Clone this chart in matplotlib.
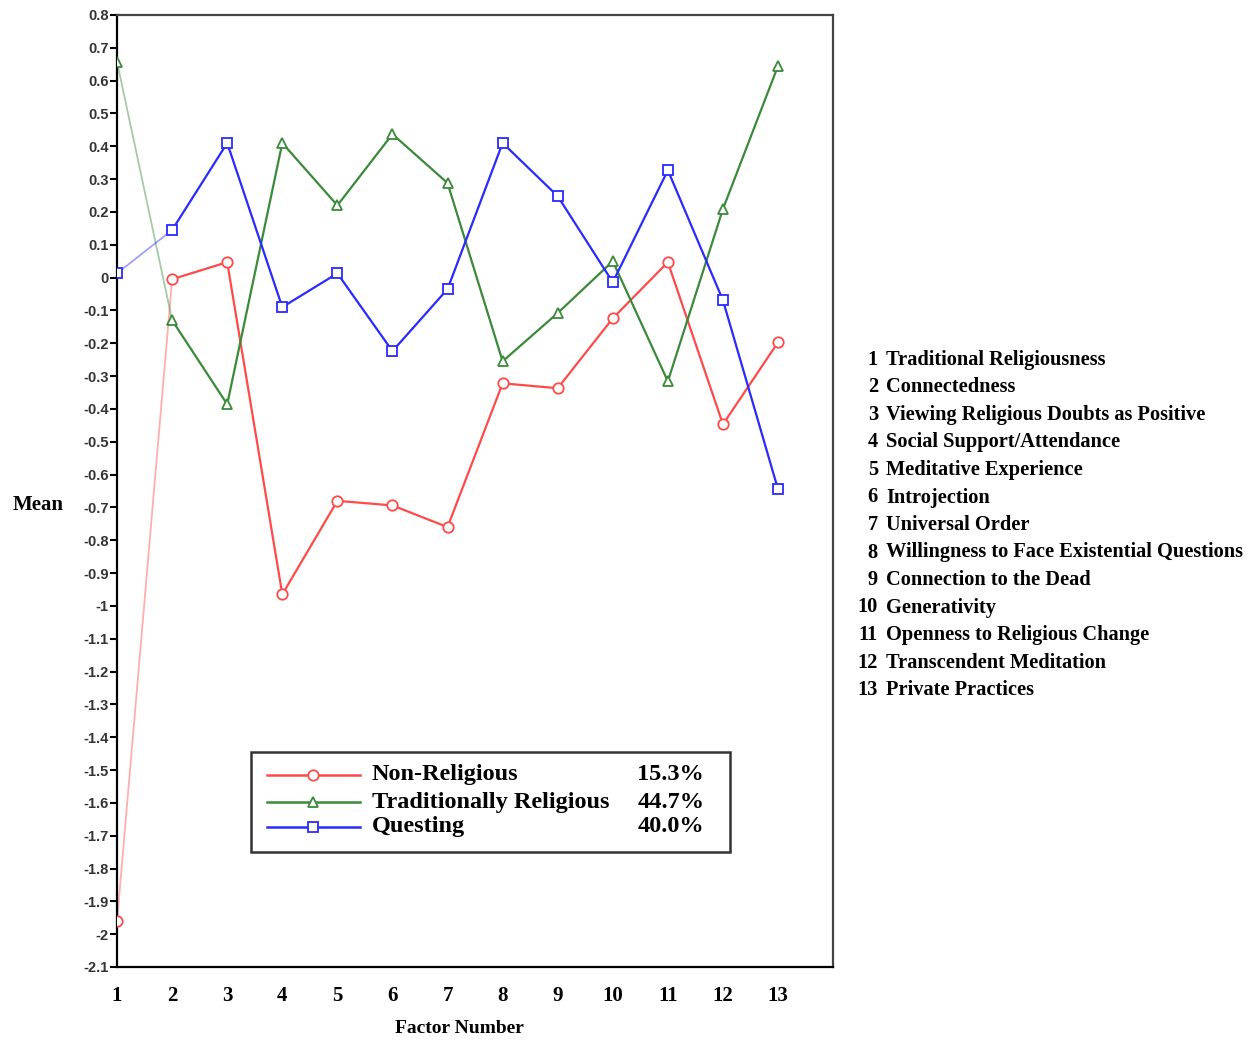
import matplotlib
matplotlib.use("Agg")
import matplotlib.pyplot as plt
import numpy as np

factors = list(range(1, 14))
non_religious = [-1.96, -0.005, 0.047, -0.965, -0.68, -0.694, -0.76, -0.322, -0.337, -0.124, 0.047, -0.447, -0.197]
trad_religious = [0.657, -0.13, -0.386, 0.41, 0.22, 0.437, 0.288, -0.255, -0.108, 0.05, -0.316, 0.209, 0.645]
questing = [0.013, 0.145, 0.41, -0.09, 0.013, -0.224, -0.035, 0.41, 0.248, -0.014, 0.327, -0.069, -0.645]

series_names = ["Non-Religious", "Traditionally Religious", "Questing"]
series_pct = ["15.3%", "44.7%", "40.0%"]
factor_names = ["Traditional Religiousness", "Connectedness", "Viewing Religious Doubts as Positive",
                "Social Support/Attendance", "Meditative Experience", "Introjection", "Universal Order",
                "Willingness to Face Existential Questions", "Connection to the Dead", "Generativity",
                "Openness to Religious Change", "Transcendent Meditation", "Private Practices"]

colors = ["#ff4a4a", "#3a8a3a", "#2a2aff"]
markers = ["o", "^", "s"]
serif = "Liberation Serif"

fig = plt.figure(figsize=(12.6, 10.4), dpi=100)
ax = fig.add_axes([0.0929, 0.0702, 0.5683, 0.9154])

for vals, c, m in zip([non_religious, trad_religious, questing], colors, markers):
    # first segment is drawn lighter in the original
    ax.plot(factors[:2], vals[:2], color=c, lw=1.3, alpha=0.45, zorder=2)
    ax.plot(factors[1:], vals[1:], color=c, lw=1.6, zorder=3)
    ax.plot(factors, vals, ls="none", marker=m, ms=7.5, mfc="white", mec=c, mew=1.3, zorder=4)

ax.set_xlim(1, 14)
ax.set_ylim(-2.1, 0.8)
ax.set_xticks(factors)
ax.set_xticklabels([str(f) for f in factors], fontfamily=serif, fontweight="bold", fontsize=15)
ax.tick_params(axis="x", length=0, pad=14)

yt = np.round(np.arange(-2.1, 0.81, 0.1), 1)
ax.set_yticks(yt)
ylabels = []
for v in yt:
    s = ("%.1f" % v).rstrip("0").rstrip(".")
    if s == "-0":
        s = "0"
    ylabels.append(s)
ax.set_yticklabels(ylabels, fontsize=10.5, fontfamily="Liberation Sans", fontweight="bold", color="#333333")
ax.tick_params(axis="y", length=5, width=1.5, pad=1)

for sp in ax.spines.values():
    sp.set_linewidth(1.6)
ax.spines["top"].set_color("#444444")
ax.spines["right"].set_color("#444444")

fig.text(0.030, 0.514, "Mean", fontfamily=serif, fontweight="bold", fontsize=15, ha="center", va="center")
fig.text(0.365, 0.0115, "Factor Number", fontfamily=serif, fontweight="bold", fontsize=14, ha="center", va="center")

# legend box
ax.add_patch(plt.Rectangle((0.187, 0.121), 0.669, 0.105, transform=ax.transAxes,
                           fill=False, ec="#333333", lw=1.8, zorder=5))
rows = [0.2017, 0.1733, 0.1471]
for y, c, m, name, pct in zip(rows, colors, markers, series_names, series_pct):
    ax.plot([0.2095, 0.339], [y, y], transform=ax.transAxes, color=c, lw=1.8, zorder=6)
    ax.plot([0.274], [y], transform=ax.transAxes, marker=m, ms=7.5, mfc="white", mec=c, mew=1.3, zorder=7)
    ax.text(0.356, y, name, transform=ax.transAxes, fontfamily=serif, fontweight="bold", fontsize=17.5,
            ha="left", va="center")
    ax.text(0.820, y, pct, transform=ax.transAxes, fontfamily=serif, fontweight="bold", fontsize=17.5,
            ha="right", va="center")

# factor list on the right
for i, name in enumerate(factor_names):
    y = 1 - (360 + 27.5 * i) / 1040
    fig.text(0.6968, y, str(i + 1), fontfamily=serif, fontweight="bold", fontsize=14.7, ha="right", va="center")
    fig.text(0.7035, y, name, fontfamily=serif, fontweight="bold", fontsize=14.7, ha="left", va="center")

fig.savefig("out.png", dpi=100)
